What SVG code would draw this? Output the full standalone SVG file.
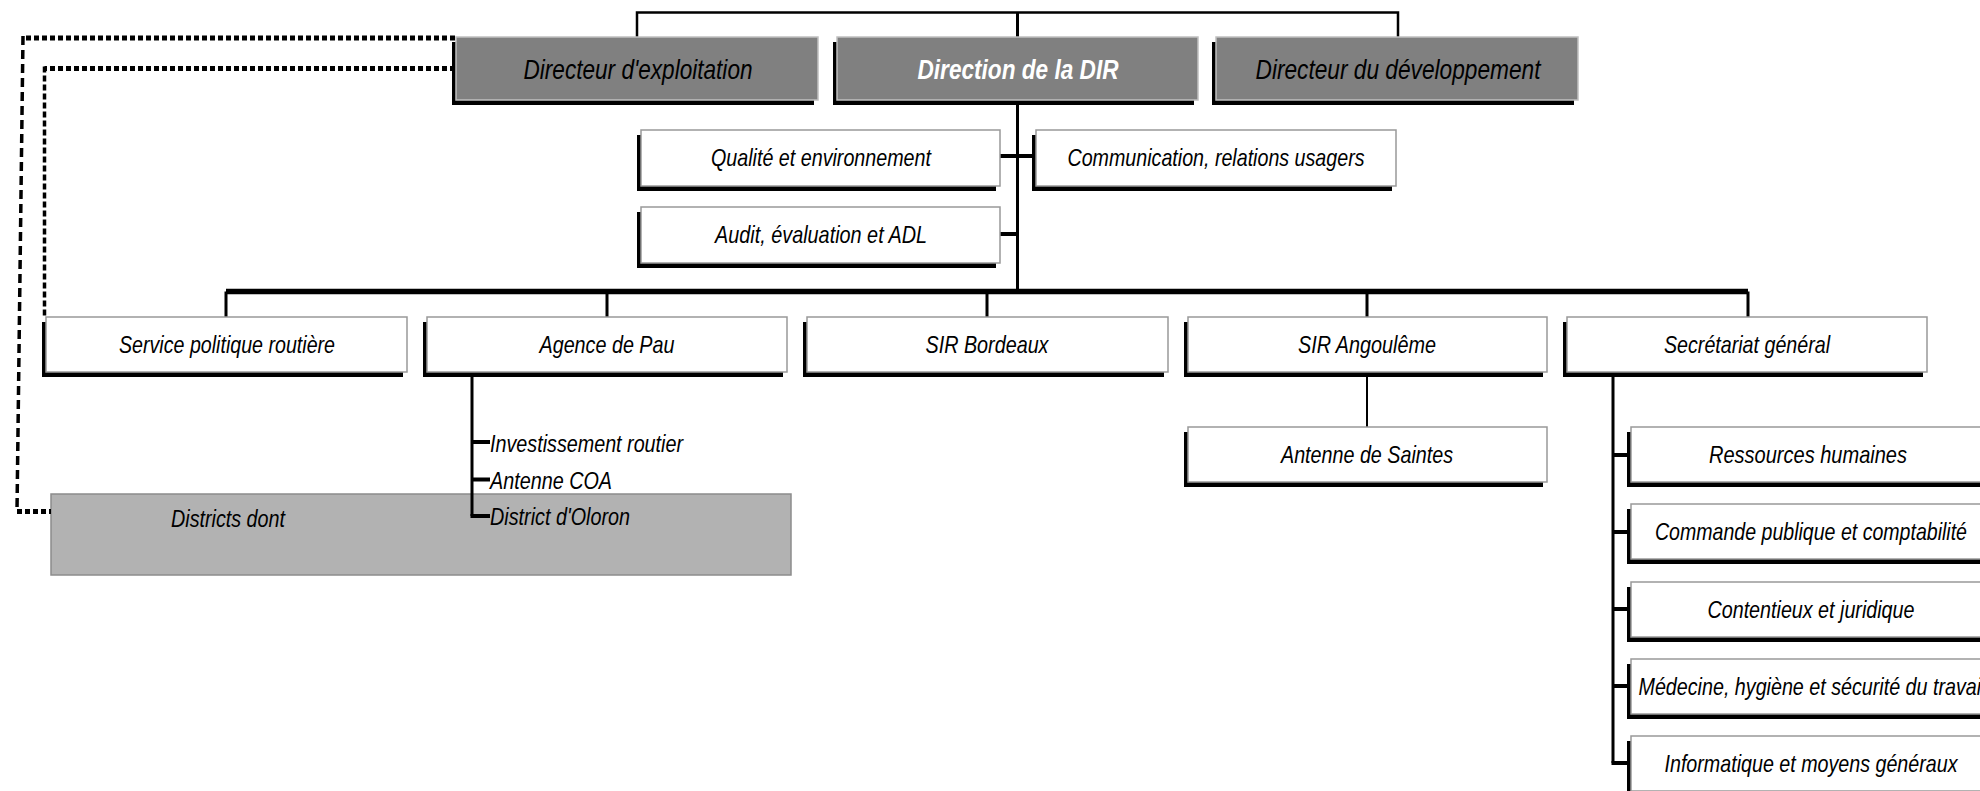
<svg xmlns="http://www.w3.org/2000/svg" width="1980" height="791" viewBox="0 0 1980 791">
<style>
.sh{fill:#000}
.bx{fill:#fff;stroke:#999;stroke-width:1.5}
.gbx{fill:#808080;stroke:#c0c0c0;stroke-width:1.5}
.dbx{fill:#b2b2b2;stroke:#8c8c8c;stroke-width:1.5}
.t{font-family:"Liberation Sans",Arial,sans-serif;font-style:italic;font-size:24px;text-anchor:middle;fill:#000}
.tt{font-size:27.5px}
.tw{fill:#fff;font-weight:bold}
.ts{text-anchor:start}
.ln{fill:none;stroke:#000;stroke-linecap:butt}
.dh{fill:none;stroke:#000;stroke-width:5;stroke-dasharray:5 3}
.dv1{fill:none;stroke:#000;stroke-width:3.5;stroke-dasharray:9 5}
.dv2{fill:none;stroke:#000;stroke-width:3.5;stroke-dasharray:6 3}
</style>
<rect width="1980" height="791" fill="#fff"/>

<g id="districts">
<rect class="dbx" x="51" y="494" width="740" height="81"/>
<text class="t" x="228" y="527" textLength="114" lengthAdjust="spacingAndGlyphs">Districts dont</text>
</g>

<g id="connectors">
<path class="ln" stroke-width="2.5" d="M637,37 V12.5 H1398 V37"/>
<path class="ln" stroke-width="3" d="M1017.5,12.5 V291.5"/>
<path class="ln" stroke-width="4" d="M1000,156 H1036"/>
<path class="ln" stroke-width="4" d="M1000,234 H1018"/>
<path class="ln" stroke-width="5.5" d="M226,291.5 H1748"/>
<path class="ln" stroke-width="3" d="M226,291.5 V317 M607,291.5 V317 M987,291.5 V317 M1367,291.5 V317 M1748,291.5 V317"/>
<path class="ln" stroke-width="3" d="M472,372 V516"/>
<path class="ln" stroke-width="4" d="M470.5,516 H490 M472,442 H490 M472,479.5 H490"/>
<path class="ln" stroke-width="2" d="M1367,372 V427"/>
<path class="ln" stroke-width="3" d="M1613,372 V763"/>
<path class="ln" stroke-width="4" d="M1611.5,763 H1631 M1613,455 H1631 M1613,532 H1631 M1613,609 H1631 M1613,686 H1631"/>
<path class="dh" d="M455,38 H23"/>
<path class="dv1" d="M23,36 L17,511"/>
<path class="dh" d="M17,511.5 H51"/>
<path class="dh" d="M455,68.5 H44.5"/>
<path class="dv2" d="M44.5,66.5 V317"/>
</g>

<g id="sub-agence">
<text class="t ts" x="490" y="452" textLength="193" lengthAdjust="spacingAndGlyphs">Investissement routier</text>
<text class="t ts" x="490" y="488.5" textLength="122" lengthAdjust="spacingAndGlyphs">Antenne COA</text>
<text class="t ts" x="490" y="525" textLength="140" lengthAdjust="spacingAndGlyphs">District d'Oloron</text>
</g>

<g id="dir-exploitation">
<rect class="sh" x="452" y="42" width="362" height="63"/>
<rect class="gbx" x="456" y="37" width="362" height="63"/>
<text class="t tt" x="638" y="78.5" textLength="229" lengthAdjust="spacingAndGlyphs">Directeur d'exploitation</text>
</g>
<g id="direction-dir">
<rect class="sh" x="833" y="42" width="361" height="63"/>
<rect class="gbx" x="837" y="37" width="361" height="63"/>
<text class="t tt tw" x="1018" y="78.5" textLength="201" lengthAdjust="spacingAndGlyphs">Direction de la DIR</text>
</g>
<g id="dir-developpement">
<rect class="sh" x="1212" y="42" width="362" height="63"/>
<rect class="gbx" x="1216" y="37" width="362" height="63"/>
<text class="t tt" x="1398" y="78.5" textLength="285" lengthAdjust="spacingAndGlyphs">Directeur du développement</text>
</g>

<g id="qualite">
<rect class="sh" x="637" y="135" width="359" height="56"/>
<rect class="bx" x="641" y="130" width="359" height="56"/>
<text class="t" x="821" y="166" textLength="220" lengthAdjust="spacingAndGlyphs">Qualité et environnement</text>
</g>
<g id="audit">
<rect class="sh" x="637" y="212" width="359" height="56"/>
<rect class="bx" x="641" y="207" width="359" height="56"/>
<text class="t" x="821" y="243" textLength="212" lengthAdjust="spacingAndGlyphs">Audit, évaluation et ADL</text>
</g>
<g id="communication">
<rect class="sh" x="1032" y="135" width="360" height="56"/>
<rect class="bx" x="1036" y="130" width="360" height="56"/>
<text class="t" x="1216" y="166" textLength="297" lengthAdjust="spacingAndGlyphs">Communication, relations usagers</text>
</g>

<g id="service-politique">
<rect class="sh" x="42" y="322" width="361" height="55"/>
<rect class="bx" x="46" y="317" width="361" height="55"/>
<text class="t" x="227" y="353" textLength="216" lengthAdjust="spacingAndGlyphs">Service politique routière</text>
</g>
<g id="agence-pau">
<rect class="sh" x="423" y="322" width="360" height="55"/>
<rect class="bx" x="427" y="317" width="360" height="55"/>
<text class="t" x="607" y="353" textLength="135" lengthAdjust="spacingAndGlyphs">Agence de Pau</text>
</g>
<g id="sir-bordeaux">
<rect class="sh" x="803" y="322" width="361" height="55"/>
<rect class="bx" x="807" y="317" width="361" height="55"/>
<text class="t" x="987" y="353" textLength="123" lengthAdjust="spacingAndGlyphs">SIR Bordeaux</text>
</g>
<g id="sir-angouleme">
<rect class="sh" x="1184" y="322" width="359" height="55"/>
<rect class="bx" x="1188" y="317" width="359" height="55"/>
<text class="t" x="1367" y="353" textLength="138" lengthAdjust="spacingAndGlyphs">SIR Angoulême</text>
</g>
<g id="secretariat">
<rect class="sh" x="1563" y="322" width="360" height="55"/>
<rect class="bx" x="1567" y="317" width="360" height="55"/>
<text class="t" x="1747" y="353" textLength="166" lengthAdjust="spacingAndGlyphs">Secrétariat général</text>
</g>

<g id="antenne-saintes">
<rect class="sh" x="1184" y="432" width="359" height="55"/>
<rect class="bx" x="1188" y="427" width="359" height="55"/>
<text class="t" x="1367" y="463" textLength="172" lengthAdjust="spacingAndGlyphs">Antenne de Saintes</text>
</g>

<g id="ressources-humaines">
<rect class="sh" x="1627" y="432" width="360" height="55"/>
<rect class="bx" x="1631" y="427" width="360" height="55"/>
<text class="t" x="1808" y="463" textLength="198" lengthAdjust="spacingAndGlyphs">Ressources humaines</text>
</g>
<g id="commande-publique">
<rect class="sh" x="1627" y="509" width="360" height="55"/>
<rect class="bx" x="1631" y="504" width="360" height="55"/>
<text class="t" x="1811" y="540" textLength="312" lengthAdjust="spacingAndGlyphs">Commande publique et comptabilité</text>
</g>
<g id="contentieux">
<rect class="sh" x="1627" y="587" width="360" height="55"/>
<rect class="bx" x="1631" y="582" width="360" height="55"/>
<text class="t" x="1811" y="618" textLength="207" lengthAdjust="spacingAndGlyphs">Contentieux et juridique</text>
</g>
<g id="medecine">
<rect class="sh" x="1627" y="664" width="360" height="55"/>
<rect class="bx" x="1631" y="659" width="360" height="55"/>
<text class="t" x="1812" y="695" textLength="347" lengthAdjust="spacingAndGlyphs">Médecine, hygiène et sécurité du travail</text>
</g>
<g id="informatique">
<rect class="sh" x="1627" y="741" width="360" height="55"/>
<rect class="bx" x="1631" y="736" width="360" height="55"/>
<text class="t" x="1811" y="772" textLength="293" lengthAdjust="spacingAndGlyphs">Informatique et moyens généraux</text>
</g>
</svg>
